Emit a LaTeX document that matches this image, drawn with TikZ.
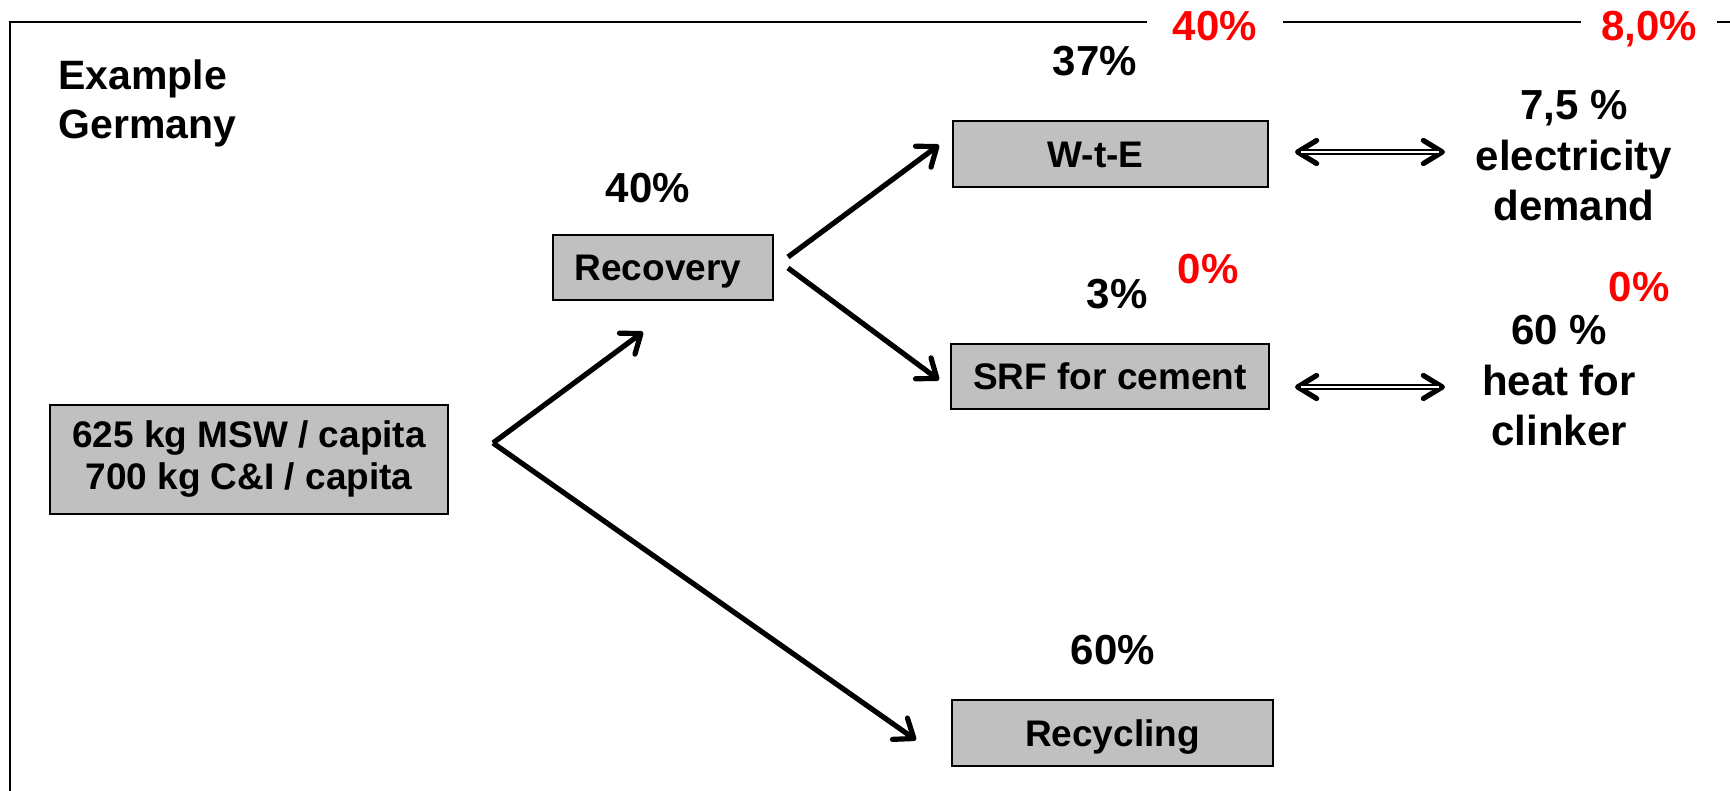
\documentclass[tikz,border=0pt]{standalone}
\usepackage{fontspec}
\setmainfont{Liberation Sans}
\usetikzlibrary{arrows.meta}
\definecolor{boxgray}{HTML}{C0C0C0}
\definecolor{pctred}{HTML}{FF0000}
\tikzset{
  box/.style={draw=black, line width=0.75pt, fill=boxgray, inner sep=0pt,
    font=\fontsize{18.5}{21}\selectfont\bfseries},
  sbox/.style={box, text height=13.3pt, text depth=0pt},
  pct/.style={font=\fontsize{21}{25}\selectfont\bfseries, inner sep=0pt, anchor=base},
  redpct/.style={pct, text=pctred},
  toplabel/.style={redpct, fill=white, minimum width=68pt},
  sidetext/.style={font=\fontsize{21}{25.25}\selectfont\bfseries, inner sep=0pt, align=center},
  flow/.style={line width=2.6pt, -{Straight Barb[length=8.5pt,width=13pt,round]}},
  link/.style={line width=2.6pt,
    {Straight Barb[length=9.5pt,width=11.5pt,round]}-{Straight Barb[length=9.5pt,width=11.5pt,round]},
    postaction={draw=white, line width=0.9pt, -, shorten <=3pt, shorten >=3pt}},
  frame/.style={line width=1pt, draw=black}
}
\begin{document}
\begin{tikzpicture}[x=0.5pt, y=-0.5pt]
  \useasboundingbox (0,0) rectangle (1730,791);
  \fill[white] (0,0) rectangle (1730,791);
  % frame
  \draw[frame] (10,791) -- (10,22) -- (1730,22);
  \node[toplabel] (topA) at (1215,41) {40\%};
  \node[toplabel] (topB) at (1649,41) {8,0\%};
  % title
  \node[anchor=west, align=left, inner sep=0pt, font=\fontsize{20.5}{24.5}\selectfont\bfseries] (title) at (58,103) {Example\\Germany};
  % boxes
  \node[box, align=center, minimum width=199pt, minimum height=54.5pt] (input) at (249,459.5) {625 kg MSW / capita\\700 kg C\&I / capita};
  \node[sbox, minimum width=110pt, minimum height=32.5pt] (recovery) at (663,267.5) {Recovery\hspace*{5pt}};
  \node[sbox, minimum width=157.5pt, minimum height=33pt] (wte) at (1110.5,154) {W-t-E\hspace*{15pt}};
  \node[sbox, minimum width=159pt, minimum height=32.5pt] (srf) at (1110,376.5) {SRF for cement};
  \node[sbox, minimum width=160.5pt, minimum height=33pt] (recycling) at (1112.5,733) {Recycling};
  % percentages
  \node[pct] (p37) at (1095,76) {37\%};
  \node[pct] (p40) at (648,203) {40\%};
  \node[pct] (p3) at (1117,308) {3\%};
  \node[redpct] (r0a) at (1208,284) {0\%};
  \node[redpct] (r0b) at (1639,302) {0\%};
  \node[pct] (p60) at (1113,664) {60\%};
  % side texts
  \node[sidetext] (elec) at (1574,156) {7,5 \%\\electricity\\demand};
  \node[sidetext] (heat) at (1559,381) {60 \%\\heat for\\clinker};
  % connector end points
  \coordinate (inFork) at (493,443);
  \coordinate (toRec) at (643,332);
  \coordinate (toCyc) at (916,740);
  \coordinate (recUp) at (788,257);
  \coordinate (recDown) at (788,268);
  \coordinate (toWte) at (939,145);
  \coordinate (toSrf) at (939,380);
  \coordinate (wteL) at (1295,152);
  \coordinate (wteR) at (1445,152);
  \coordinate (srfL) at (1295,387);
  \coordinate (srfR) at (1445,387);
  % connectors
  \draw[flow] (inFork) -- (toRec);
  \draw[flow] (inFork) -- (toCyc);
  \draw[flow] (recUp) -- (toWte);
  \draw[flow] (recDown) -- (toSrf);
  \draw[link] (wteL) -- (wteR);
  \draw[link] (srfL) -- (srfR);
\end{tikzpicture}
\end{document}
